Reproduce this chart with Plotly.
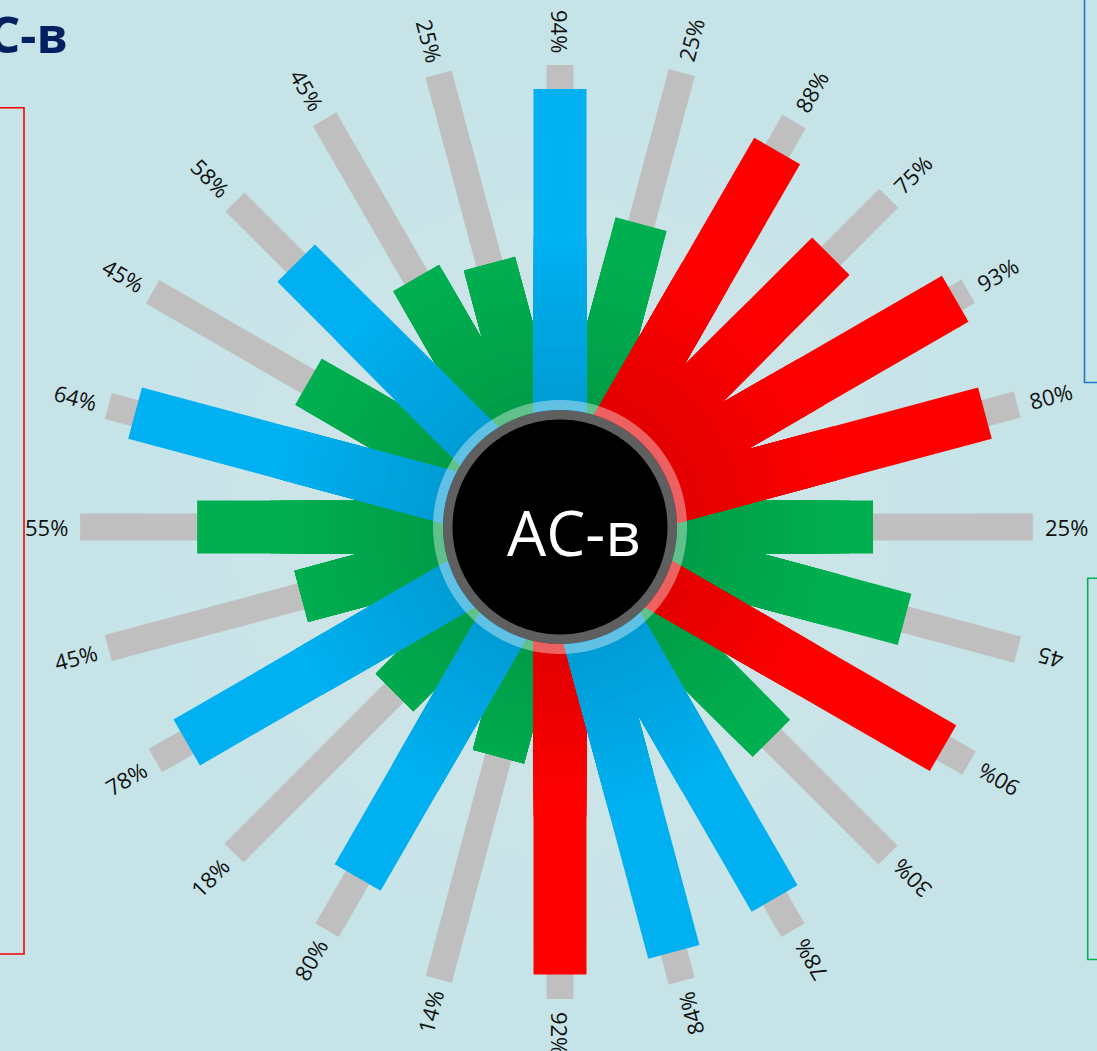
import numpy as np
import plotly.graph_objects as go

# ---- data (clockwise from 12 o'clock, 15 degrees apart) ----
angles = list(range(0, 360, 15))
bar_values = [93.2, 66.7, 92.4, 81.5, 97.1, 93.6, 66.6, 75.9, 94.1, 63.6, 91.3, 93.6,
              95.2, 50.6, 86.1, 49.8, 91.7, 57.0, 77.2, 93.6, 61.8, 79.4, 61.2, 58.0]
track_values = [98.3, 100.1, 99.6, 98.9, 100.3, 100.7, 100.6, 100.8, 100.5, 98.7, 99.1, 100.0,
                100.4, 99.6, 99.1, 98.1, 99.4, 99.5, 102.1, 99.5, 100.1, 97.8, 100.2, 99.8]
groups = ["blue", "green", "red", "red", "red", "red", "green", "green", "red", "green", "blue", "blue",
          "red", "green", "blue", "green", "blue", "green", "green", "blue", "green", "blue", "green", "green"]
labels = ["94%", "25%", "88%", "75%", "93%", "80%", "25%", "45", "90%", "30%", "78%", "84%",
          "92%", "14%", "80%", "18%", "78%", "45%", "55%", "64%", "45%", "58%", "45%", "25%"]
center_title = "AC-в"

# ---- styling ----
W, H = 1097, 1051
CX, CY = 560, 527            # centre of the wheel in pixels
PLOT_R = 500                 # pixel radius of the polar area
PX = 4.7                     # pixels per radial unit
COLORS = {"blue": "#00B0F0", "green": "#00B050", "red": "#FF0000"}
TRACK_COLOR = "#BFBFBF"
BG = "#C6E4E8"
FONT = "Open Sans"

# inner shading of the coloured bars: brightness falls off towards the hub
SHADE_OUTER, SHADE_INNER, SHADE_MIN = 290, 120, 0.88
SHADE_RADII = np.arange(SHADE_OUTER, SHADE_INNER - 1, -10)
GLOW_RADII = np.arange(420, 180, -30)


def shade(hex_color, f):
    h = hex_color.lstrip("#")
    r, g, b = (int(h[i:i + 2], 16) for i in (0, 2, 4))
    return "rgb(%d,%d,%d)" % (round(r * f), round(g * f), round(b * f))


def spoke(r_end, theta, color, width):
    return go.Scatterpolar(r=[0, r_end], theta=[theta, theta], mode="lines",
                           line=dict(color=color, width=width), hoverinfo="skip",
                           showlegend=False)


def disc(radius_px, fillcolor):
    circ = np.linspace(0, 360, 361)
    return go.Scatterpolar(r=np.full(circ.size, radius_px / PX), theta=circ, mode="lines",
                           fill="toself", fillcolor=fillcolor, line=dict(width=0),
                           hoverinfo="skip", showlegend=False)


fig = go.Figure()

# soft light glow behind the wheel
for rpx in GLOW_RADII:
    fig.add_trace(disc(rpx, "rgba(255,255,255,0.03)"))

# grey tracks
for th, tv in zip(angles, track_values):
    fig.add_trace(spoke(tv, th, TRACK_COLOR, 27))

# coloured bars, drawn group by group
for grp in ["green", "red", "blue"]:
    for th, v, g in zip(angles, bar_values, groups):
        if g != grp:
            continue
        base = COLORS[g]
        fig.add_trace(spoke(v, th, base, 53))
        for rpx in SHADE_RADII:
            t = (SHADE_OUTER - rpx) / (SHADE_OUTER - SHADE_INNER)
            f = 1 - (1 - SHADE_MIN) * t
            fig.add_trace(spoke(min(v, rpx / PX), th, shade(base, f), 53))

# centre badge: translucent halo, grey rim, black disc
circ = np.linspace(0, 360, 361)
fig.add_trace(go.Scatterpolar(r=np.full(circ.size, 122 / PX), theta=circ, mode="lines",
                              line=dict(color="rgba(255,255,255,0.38)", width=10),
                              hoverinfo="skip", showlegend=False))
fig.add_trace(disc(117, "#5F5F5F"))
fig.add_trace(disc(107.5, "#000000"))


def label_angle(th):
    if 0 < th <= 90:
        return th - 90
    if th == 180:
        return 90
    return ((th - 270 + 180) % 360) - 180


annotations = []
for th, tv, txt in zip(angles, track_values, labels):
    rad = tv * PX + 34
    xp = CX + rad * np.sin(np.radians(th))
    yp = CY - rad * np.cos(np.radians(th))
    annotations.append(dict(x=xp / W, y=1 - yp / H, xref="paper", yref="paper",
                            text=txt, showarrow=False, xanchor="center", yanchor="middle",
                            textangle=label_angle(th),
                            font=dict(family=FONT, size=22, color="#111111")))

annotations.append(dict(x=574 / W, y=1 - 532 / H, xref="paper", yref="paper",
                        text=center_title, showarrow=False, xanchor="center", yanchor="middle",
                        font=dict(family=FONT, size=62, color="white")))
annotations.append(dict(x=70 / W, y=1 - 34 / H, xref="paper", yref="paper",
                        text="<b>%s</b>" % center_title, showarrow=False,
                        xanchor="right", yanchor="middle",
                        font=dict(family=FONT, size=50, color="#002060")))

shapes = [
    dict(type="rect", xref="paper", yref="paper", x0=-0.05, x1=24 / W,
         y0=1 - 954 / H, y1=1 - 107.7 / H, line=dict(color="#FF0000", width=1.6)),
    dict(type="rect", xref="paper", yref="paper", x0=1084.5 / W, x1=1.05,
         y0=1 - 382.5 / H, y1=1.05, line=dict(color="#1F77C8", width=1.6)),
    dict(type="rect", xref="paper", yref="paper", x0=1087.7 / W, x1=1.05,
         y0=1 - 959.5 / H, y1=1 - 578.3 / H, line=dict(color="#00B050", width=1.6)),
]

fig.update_layout(
    width=W, height=H,
    margin=dict(l=0, r=0, t=0, b=0),
    paper_bgcolor=BG, plot_bgcolor=BG,
    showlegend=False,
    polar=dict(
        domain=dict(x=[(CX - PLOT_R) / W, (CX + PLOT_R) / W],
                    y=[(H - CY - PLOT_R) / H, (H - CY + PLOT_R) / H]),
        bgcolor="rgba(0,0,0,0)",
        radialaxis=dict(range=[0, PLOT_R / PX], visible=False, showgrid=False),
        angularaxis=dict(rotation=90, direction="clockwise", visible=False, showgrid=False),
    ),
    annotations=annotations,
    shapes=shapes,
)

fig.write_html("out.html")
